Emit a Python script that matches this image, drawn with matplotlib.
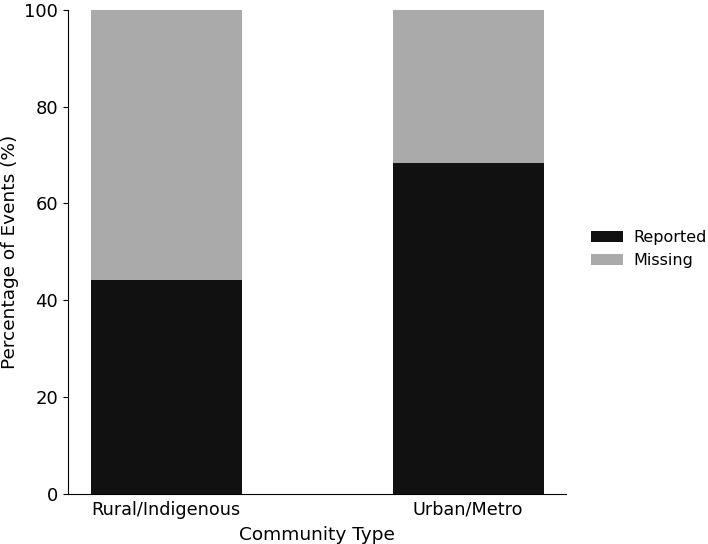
import numpy as np
import matplotlib.pyplot as plt

categories = ['Rural/Indigenous', 'Urban/Metro']
reported = [44.1, 68.4]
missing = [100 - r for r in reported]

fig, ax = plt.subplots(figsize=(7.08, 5.44), dpi=100)
x = np.arange(len(categories))
ax.bar(x, reported, width=0.5, color='#111111', label='Reported')
ax.bar(x, missing, width=0.5, bottom=reported, color='#aaaaaa', label='Missing')

ax.set_xticks(x)
ax.set_xticklabels(categories, fontsize=12.7)
ax.tick_params(axis='x', length=0, pad=5)
ax.tick_params(axis='y', labelsize=13)
ax.set_ylim(0, 100)
ax.set_xlabel('Community Type', fontsize=13.3, labelpad=5)
ax.set_ylabel('Percentage of Events (%)', fontsize=13.3)
ax.spines['top'].set_visible(False)
ax.spines['right'].set_visible(False)

ax.legend(loc='center left', bbox_to_anchor=(1.02, 0.505), frameon=False,
          fontsize=11.5, handletextpad=0.7)
fig.subplots_adjust(left=0.096, right=0.8, top=0.982, bottom=0.092)
fig.savefig('out.png')
